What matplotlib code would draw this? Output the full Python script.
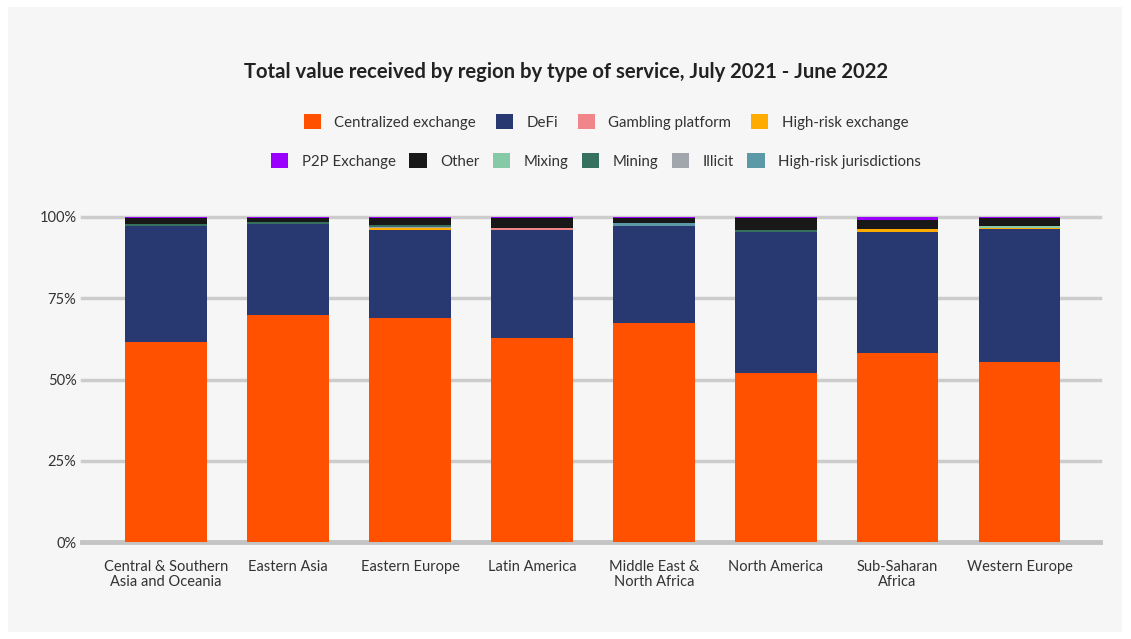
import matplotlib
matplotlib.use("Agg")
import matplotlib.pyplot as plt
from matplotlib.patches import Rectangle, Patch
import numpy as np

plt.rcParams['font.family'] = ['Lato', 'DejaVu Sans']

regions = ["Central & Southern\nAsia and Oceania", "Eastern Asia", "Eastern Europe",
           "Latin America", "Middle East &\nNorth Africa", "North America",
           "Sub-Saharan\nAfrica", "Western Europe"]

centralized = [61.5, 69.8, 68.9, 62.8, 67.4, 52.0, 58.2, 55.4]
defi = [35.8, 28.0, 27.1, 33.2, 29.9, 43.4, 37.2, 40.8]
gambling = [0, 0, 0, 0.5, 0, 0, 0, 0]
high_risk_ex = [0, 0, 0.5, 0, 0, 0, 0.8, 0.3]
high_risk_jur = [0, 0, 0, 0, 1.0, 0, 0, 0]
illicit = [0, 0, 0.4, 0, 0, 0, 0, 0]
mining = [0.5, 0.6, 0.6, 0, 0, 0.6, 0, 0]
mixing = [0, 0, 0, 0, 0, 0, 0, 0.7]
other = [1.9, 1.3, 2.2, 3.2, 1.4, 3.6, 2.8, 2.4]
p2p = [0.3, 0.3, 0.3, 0.3, 0.3, 0.4, 1.0, 0.4]

colors = {
    "Centralized exchange": "#ff5100",
    "DeFi": "#283870",
    "Gambling platform": "#f0868a",
    "High-risk exchange": "#ffab00",
    "P2P Exchange": "#9b00ff",
    "Other": "#181818",
    "Mixing": "#85c9a7",
    "Mining": "#36705f",
    "Illicit": "#a1a6ad",
    "High-risk jurisdictions": "#5b99a6",
}

# stacking order, bottom to top
stack = [
    ("Centralized exchange", centralized),
    ("DeFi", defi),
    ("Gambling platform", gambling),
    ("High-risk exchange", high_risk_ex),
    ("High-risk jurisdictions", high_risk_jur),
    ("Illicit", illicit),
    ("Mining", mining),
    ("Mixing", mixing),
    ("Other", other),
    ("P2P Exchange", p2p),
]

fig = plt.figure(figsize=(11.31, 6.39), dpi=100, facecolor="white")
fig.patches.append(Rectangle((8 / 1131, 7 / 639), 1114 / 1131, 625 / 639,
                             transform=fig.transFigure, facecolor="#f6f6f6",
                             edgecolor="none", zorder=-5))

ax = fig.add_axes([82 / 1131, 1 - 542 / 639, 1018 / 1131, 325 / 639])
ax.set_facecolor("none")
ax.set_zorder(2)

x = np.arange(len(regions))
bottom = np.zeros(len(regions))
for name, vals in stack:
    ax.bar(x, vals, width=0.67, bottom=bottom, color=colors[name], zorder=3)
    bottom += np.array(vals)

for v in [25, 50, 75, 100]:
    ax.axhline(v, color="#cccccc", lw=2.5, zorder=1, clip_on=False)
ax.axhline(0, color="#c4c4c4", lw=3.5, zorder=1, clip_on=False)

ax.set_xlim(-0.69, 7.66)
ax.set_ylim(0, 100)
ax.set_yticks([0, 25, 50, 75, 100])
ax.set_yticklabels(["0%", "25%", "50%", "75%", "100%"], fontsize=10.5, color="#333333")
ax.set_xticks(x)
ax.set_xticklabels(regions, fontsize=10.5, color="#333333", linespacing=1.1)
ax.tick_params(length=0, pad=4)
ax.tick_params(axis="x", pad=13)
for s in ax.spines.values():
    s.set_visible(False)

fig.text(0.5, 1 - 72 / 639, "Total value received by region by type of service, July 2021 - June 2022",
         ha="center", va="center", fontsize=14.6, fontweight="bold", color="#222222")

row1 = ["Centralized exchange", "DeFi", "Gambling platform", "High-risk exchange"]
row2 = ["P2P Exchange", "Other", "Mixing", "Mining", "Illicit", "High-risk jurisdictions"]
for names, xpos, ypos, cs in [(row1, 606 / 1131, 1 - 122 / 639, 1.3),
                              (row2, 596 / 1131, 1 - 161 / 639, 0.9)]:
    handles = [Patch(facecolor=colors[n], edgecolor="none", label=n) for n in names]
    fig.legend(handles=handles, loc="center", bbox_to_anchor=(xpos, ypos),
               ncol=len(names), frameon=False, fontsize=10.8, handlelength=1.15,
               handleheight=1.15, handletextpad=0.9, columnspacing=cs,
               labelcolor="#333333")

fig.savefig("out.png", dpi=100, facecolor="white")
